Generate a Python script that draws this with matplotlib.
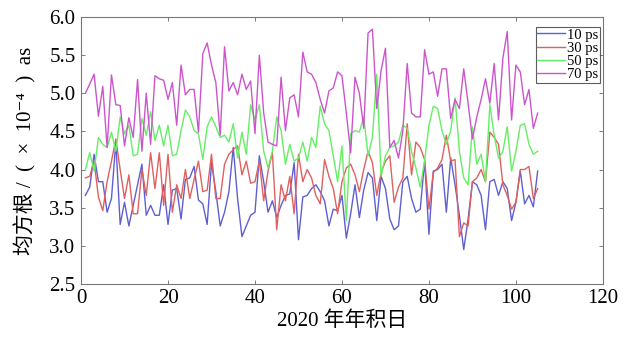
import numpy as np
import matplotlib
matplotlib.use("Agg")
import matplotlib.pyplot as plt

plt.rcParams['font.family'] = ['Liberation Serif', 'Noto Sans CJK SC', 'DejaVu Sans']

days = np.arange(1, 106)

rms_10ps = [
    3.66, 3.77, 4.2, 3.84, 3.84, 3.44, 3.62, 4.36, 3.28, 3.57, 3.26, 3.53, 3.8, 4.07, 3.4, 3.53, 3.4,
    3.4, 3.8, 3.28, 3.73, 3.75, 3.35, 3.87, 3.89, 4.04, 3.6, 3.55, 3.28, 4.09, 3.71, 3.26, 3.44, 3.71, 4.29,
    3.62, 3.12, 3.26, 3.4, 3.44, 4.18, 3.84, 3.44, 3.59, 3.37, 3.53, 3.66, 3.68, 4.09, 3.08, 3.64, 3.66, 3.75,
    3.8, 3.71, 3.59, 3.26, 3.48, 3.46, 3.66, 3.1, 3.42, 3.8, 3.37, 3.73, 3.96, 3.89, 3.33, 3.91, 3.75, 3.35,
    3.21, 3.26, 3.84, 3.91, 3.62, 3.44, 3.48, 4.11, 3.15, 3.98, 4.0, 4.07, 3.44, 4.15, 3.8, 3.4, 2.95,
    3.35, 3.84, 3.8, 3.66, 3.21, 3.84, 3.87, 3.66, 3.84, 3.75, 3.33, 3.57, 3.98, 3.55, 3.66, 3.51, 3.98,
]
rms_30ps = [
    3.89, 3.91, 4.11, 3.64, 3.46, 3.84, 4.11, 4.4, 4.0, 3.62, 3.93, 3.42, 3.42, 4.0, 3.66, 4.22, 3.75,
    4.22, 3.53, 4.2, 3.44, 3.8, 3.62, 4.0, 3.62, 3.87, 4.11, 3.71, 3.73, 4.2, 3.62, 3.62, 4.07, 4.2, 4.26,
    4.31, 3.93, 4.11, 3.82, 3.84, 4.11, 3.59, 3.98, 4.22, 3.21, 3.8, 3.59, 3.91, 3.42, 4.2, 3.84, 4.0, 3.89,
    3.66, 3.55, 4.13, 3.91, 3.75, 3.42, 3.84, 4.02, 4.07, 3.93, 3.71, 4.0, 4.24, 4.09, 3.66, 3.96, 4.11, 4.18,
    3.57, 3.77, 3.89, 4.6, 3.93, 4.36, 4.29, 4.13, 3.48, 3.96, 4.02, 4.13, 4.45, 4.11, 4.13, 3.12, 3.3,
    3.26, 3.84, 3.89, 4.0, 3.84, 4.49, 4.42, 4.33, 3.8, 3.66, 3.48, 3.57, 4.0, 4.0, 4.04, 3.62, 3.75,
]
rms_50ps = [
    4.0, 4.22, 3.98, 4.42, 4.33, 4.29, 4.49, 4.24, 4.69, 4.47, 4.58, 4.18, 4.2, 4.67, 4.45, 4.76, 4.38,
    4.58, 4.31, 4.58, 4.18, 4.2, 4.51, 4.78, 4.69, 4.51, 4.47, 4.13, 4.56, 4.69, 4.56, 4.42, 4.45, 4.36, 4.6,
    4.15, 4.49, 4.2, 4.85, 4.65, 4.85, 4.24, 4.02, 4.24, 4.69, 4.51, 4.07, 4.33, 4.11, 4.15, 4.36, 4.11, 4.42,
    4.29, 4.83, 4.6, 4.51, 4.18, 3.84, 4.31, 3.33, 4.47, 4.51, 4.49, 4.69, 4.18, 4.42, 5.25, 3.91, 4.18, 4.29,
    4.31, 4.36, 4.58, 4.54, 4.24, 4.02, 3.77, 4.11, 4.58, 4.83, 4.8, 4.51, 4.33, 4.51, 4.94, 4.24, 3.89,
    3.8, 4.56, 4.07, 4.2, 3.84, 4.85, 4.45, 4.15, 4.24, 4.56, 3.98, 4.24, 4.58, 4.6, 4.33, 4.2, 4.24,
]
rms_70ps = [
    5.0, 5.12, 5.25, 4.7, 5.09, 4.29, 5.24, 4.85, 4.84, 4.31, 4.68, 4.42, 5.18, 4.24, 5.0, 4.33, 5.23,
    5.19, 5.17, 4.92, 5.14, 4.58, 5.37, 4.98, 5.05, 5.05, 4.49, 5.52, 5.66, 5.37, 5.14, 4.45, 5.61, 5.03, 5.14,
    4.98, 5.25, 5.05, 5.16, 4.47, 5.5, 4.74, 4.36, 4.33, 4.31, 5.21, 4.51, 4.94, 4.98, 4.69, 5.54, 5.28, 5.25,
    5.14, 4.92, 4.74, 5.03, 5.07, 5.28, 5.23, 4.74, 4.22, 5.21, 5.0, 4.54, 5.79, 5.84, 4.8, 5.3, 5.59, 4.29,
    4.38, 4.15, 4.51, 5.39, 4.74, 4.69, 4.69, 5.57, 5.25, 5.28, 4.96, 5.32, 5.32, 4.67, 4.92, 4.8, 5.32,
    4.87, 4.4, 4.69, 4.92, 5.19, 4.87, 5.39, 4.65, 5.46, 5.81, 4.65, 5.37, 5.28, 4.85, 5.05, 4.54, 4.74,
]

series = [
    ("10 ps", rms_10ps, "#5f5fd2"),
    ("30 ps", rms_30ps, "#e06060"),
    ("50 ps", rms_50ps, "#66ee66"),
    ("70 ps", rms_70ps, "#cc55cc"),
]

x_ticks = [0, 20, 40, 60, 80, 100, 120]
y_ticks = [2.5, 3.0, 3.5, 4.0, 4.5, 5.0, 5.5, 6.0]

fig = plt.figure(figsize=(6.38, 3.40), dpi=100)
ax = fig.add_axes([0.127, 0.165, 0.818, 0.785])

for label, vals, color in series:
    ax.plot(days, vals, color=color, lw=1.0, label=label)

ax.set_xlim(0, 120)
ax.set_ylim(2.5, 6.0)
ax.set_xticks(x_ticks)
ax.set_yticks(y_ticks)
ax.set_yticklabels([f"{v:.1f}" for v in y_ticks])

for sp in ax.spines.values():
    sp.set_color("#777777")
    sp.set_linewidth(0.8)

ax.tick_params(direction="in", top=True, right=True, length=3, width=0.6,
               color="#666666", labelsize=15, pad=4)

ax.set_xlabel("2020 年年积日", fontsize=15, labelpad=2)
ax.set_ylabel("均方根 /  (  ×  10⁻⁴  )  as", fontsize=15, labelpad=9)

leg = ax.legend(loc="upper right", bbox_to_anchor=(0.994, 0.963), fontsize=10.5,
                frameon=True, fancybox=False, handlelength=1.9, handletextpad=0.15,
                borderpad=0.1, labelspacing=0.0, borderaxespad=0.0)
leg.get_frame().set_edgecolor("#333333")
leg.get_frame().set_linewidth(0.8)

fig.savefig("out.png", dpi=100)
